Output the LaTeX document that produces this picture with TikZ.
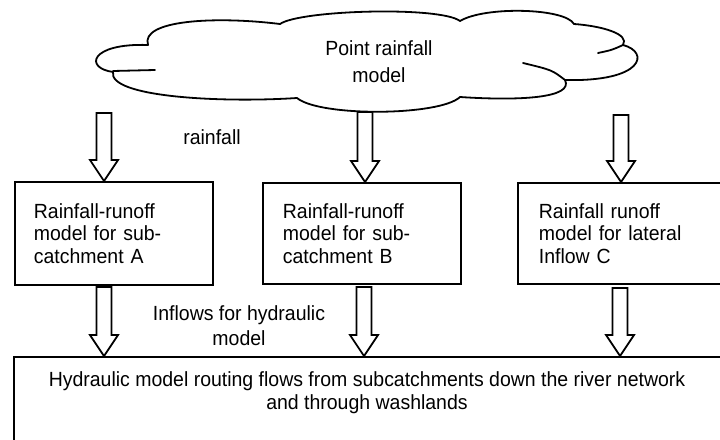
\documentclass[tikz,border=0pt]{standalone}
\usepackage{fontspec}
\setmainfont{Liberation Sans}[FakeStretch=0.95]
\usetikzlibrary{calc}
\tikzset{
  ln/.style={line width=1.8pt, line join=round, line cap=round},
  modelbox/.style={draw, line width=1.8pt, rectangle, anchor=north west,
    inner ysep=0pt, align=left, font=\fontsize{20.5}{22.5}\selectfont},
  blk/.style={draw, line width=1.8pt, fill=white, line join=miter},
  lbl/.style={font=\fontsize{20.5}{24}\selectfont, align=center, inner sep=0pt},
}
\newcommand\blockarrow[2]{%
  \path[blk] let \p1=(#1), \p2=(#2) in
    (\x1-7.5pt,\y1) -- (\x1-7.5pt,\y2+21pt) -- (\x1-14pt,\y2+21pt) --
    (\x1,\y2) -- (\x1+14pt,\y2+21pt) -- (\x1+7.5pt,\y2+21pt) --
    (\x1+7.5pt,\y1) -- cycle;}
\begin{document}
\begin{tikzpicture}[x=1pt,y=-1pt]
\useasboundingbox (0,0) rectangle (720,439);
\clip (0,0) rectangle (720,439);
\fill[white] (0,0) rectangle (720,439);

% cloud
\draw[ln] (148,45) .. controls (140,20) and (215,16) .. (280,24)
  .. controls (300,10) and (440,6) .. (460,21)
  .. controls (485,6) and (565,8) .. (574,24)
  .. controls (602,26) and (630,34) .. (623,45)
  .. controls (650,52) and (644,82) .. (565,80)
  .. controls (574,98) and (520,101) .. (460,97)
  .. controls (440,116) and (320,117) .. (297,98)
  .. controls (220,103) and (108,97) .. (113,72)
  .. controls (84,68) and (90,43) .. (148,45) -- cycle;
\draw[ln] (113,71) -- (155,70);
\draw[ln] (623,45) .. controls (612,50) .. (598,53);
\draw[ln] (565,80) .. controls (552,70) .. (523,63);
\node[lbl, font=\fontsize{20.5}{27}\selectfont] (cloud) at (379,62) {Point rainfall\\model};

% model boxes
\node[modelbox, inner xsep=19pt, text width=160pt, minimum height=103pt] (A) at (14,181)
  {Rainfall-runoff\\model for sub-\\catchment A};
\node[modelbox, inner xsep=20pt, text width=158pt, minimum height=101pt] (B) at (262,182)
  {Rainfall-runoff\\model for sub-\\catchment B};
\node[modelbox, inner xsep=21pt, text width=181pt, minimum height=101pt] (C) at (517,182)
  {Rainfall runoff\\model for lateral\\Inflow C};

% hydraulic box
\node[draw, line width=1.8pt, rectangle, anchor=north west, minimum width=740pt,
  minimum height=120pt, inner sep=0pt] (H) at (13,356) {};
\node[lbl, font=\fontsize{20.5}{23}\selectfont] (Ht) at (367,393)
  {Hydraulic model routing flows from subcatchments down the river network\\and through washlands};

% arrows
\coordinate (t1) at (104,113);
\coordinate (t2) at (365,112);
\coordinate (t3) at (621,115);
\coordinate (b1) at (104,287);
\coordinate (b2) at (364,287);
\coordinate (b3) at (620,288);
\blockarrow{t1}{A.north}
\blockarrow{t2}{B.north}
\blockarrow{t3}{C.north}
\blockarrow{b1}{H.north}
\blockarrow{b2}{H.north}
\blockarrow{b3}{H.north}

% labels
\node[lbl] (rf) at (212,137) {rainfall};
\node[lbl, font=\fontsize{20.5}{25}\selectfont] (inf) at (239,326) {Inflows for hydraulic\\model};
\end{tikzpicture}
\end{document}
